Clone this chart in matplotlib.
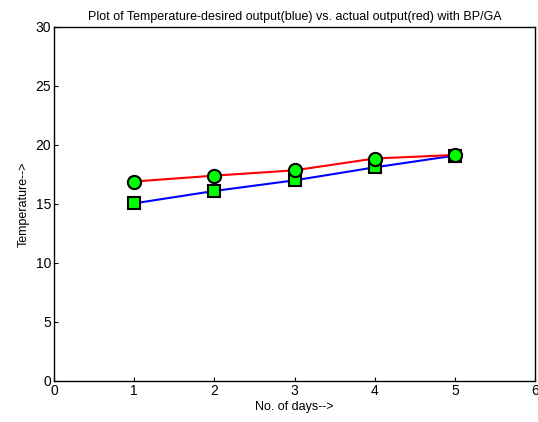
import numpy as np
import matplotlib
matplotlib.use('Agg')
import matplotlib.pyplot as plt

plt.rcParams['font.family'] = ['Liberation Sans', 'DejaVu Sans']

days = [1, 2, 3, 4, 5]
desired = [15.05, 16.1, 17.0, 18.1, 19.1]   # blue
actual = [16.9, 17.4, 17.85, 18.85, 19.15]  # red

fig = plt.figure(figsize=(5.38, 4.22), dpi=100)
ax = fig.add_axes([0.1004, 0.0972, 0.894, 0.839])

ax.plot(days, desired, color='blue', lw=1.5, marker='s', ms=8.5,
        mfc='#00ff00', mec='black', mew=1.5)
ax.plot(days, actual, color='red', lw=1.5, marker='o', ms=9.5,
        mfc='#00ff00', mec='black', mew=1.5)

ax.set_xlim(0, 6)
ax.set_ylim(0, 30)
ax.set_xticks(range(0, 7))
ax.set_yticks(range(0, 31, 5))
ax.tick_params(direction='in', length=3, labelsize=10, top=False, right=False, pad=2)
for s in ax.spines.values():
    s.set_linewidth(1.0)

ax.set_title('Plot of Temperature-desired output(blue) vs. actual output(red) with BP/GA',
             fontsize=9, pad=5)
ax.set_xlabel('No. of days-->', fontsize=9, labelpad=2)
ax.set_ylabel('Temperature-->', fontsize=9, labelpad=4)

fig.savefig('out.png', dpi=100)
